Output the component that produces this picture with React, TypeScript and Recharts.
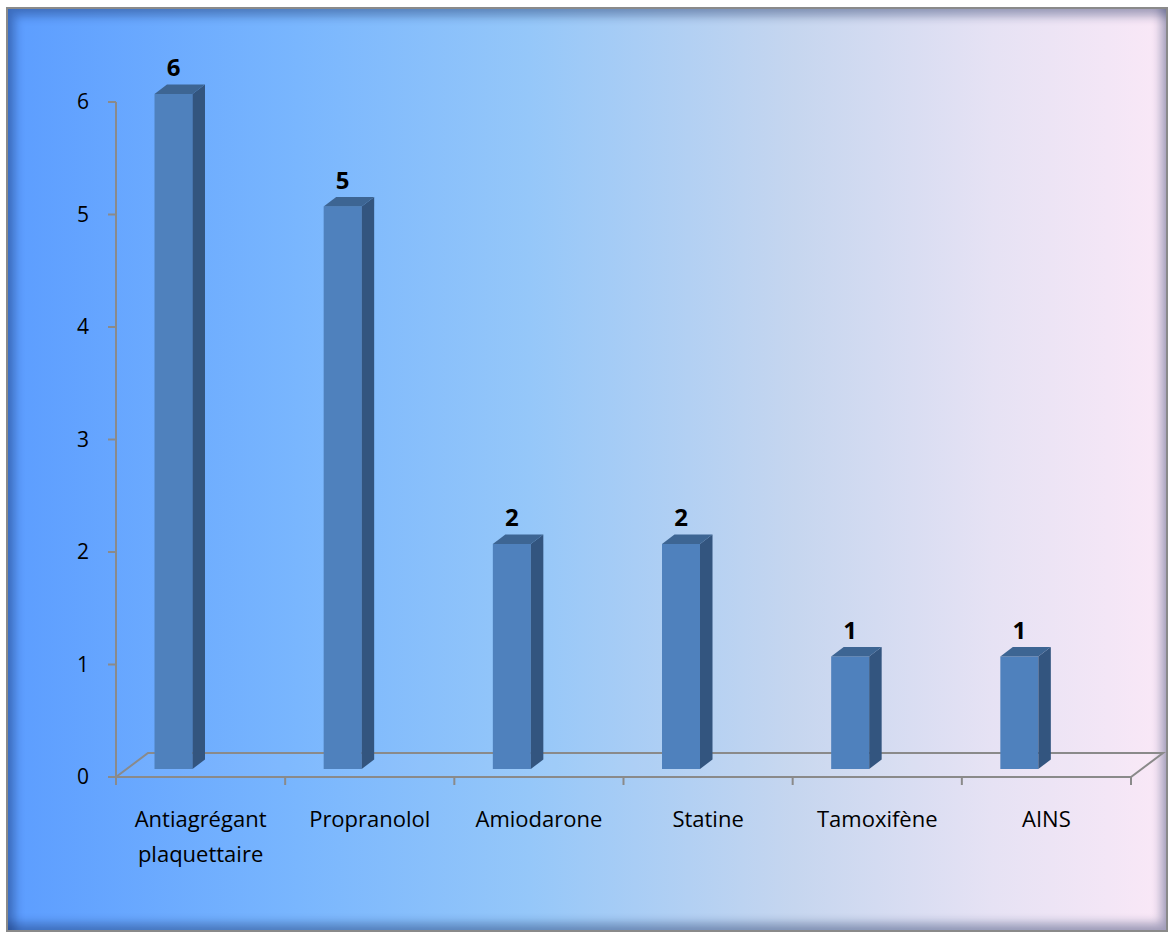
import React from 'react';
import { BarChart, Bar, XAxis, YAxis, ReferenceArea, LabelList } from 'recharts';

const categories = [
  'Antiagrégant plaquettaire',
  'Propranolol',
  'Amiodarone',
  'Statine',
  'Tamoxifène',
  'AINS',
];
const counts = [6, 5, 2, 2, 1, 1];
const yTicks = [0, 1, 2, 3, 4, 5, 6];

const FONT = '"Open Sans", "Liberation Sans", sans-serif';
const AXIS = '#8a8a8a';

// 3d look, in px
const SHIFT_X = -27.5;
const SHIFT_Y = -8;
const BAR_DX = 12.5;
const BAR_DY = 9.5;
const FLOOR_DX = 32;
const FLOOR_DY = 24;

const data = categories.map((name, i) => ({ name, value: counts[i] }));

function Bar3D(props: any) {
  const { x, y, width, height } = props;
  const fx = x + SHIFT_X;
  const top = y + SHIFT_Y;
  const bottom = y + height + SHIFT_Y;
  const r = fx + width;
  return (
    <g>
      <rect x={fx} y={top} width={width} height={bottom - top} fill="#4f81bd" />
      <path
        d={`M${r},${top} L${r + BAR_DX},${top - BAR_DY} L${r + BAR_DX},${bottom - BAR_DY} L${r},${bottom} Z`}
        fill="#33557f"
      />
      <path
        d={`M${fx},${top} L${fx + BAR_DX},${top - BAR_DY} L${r + BAR_DX},${top - BAR_DY} L${r},${top} Z`}
        fill="#3d6593"
      />
    </g>
  );
}

function Floor(props: any) {
  const { x, y, width, height } = props;
  const b = y + height;
  const n = categories.length;
  return (
    <g stroke={AXIS} strokeWidth={2} fill="none">
      <path
        d={`M${x},${b} L${x + FLOOR_DX},${b - FLOOR_DY} L${x + width + FLOOR_DX},${b - FLOOR_DY} L${x + width},${b} Z`}
        fill="rgba(255,255,255,0.06)"
      />
      {Array.from({ length: n + 1 }, (_, i) => (
        <line key={i} x1={x + (i * width) / n} y1={b} x2={x + (i * width) / n} y2={b + 8} />
      ))}
    </g>
  );
}

function ValueLabel(props: any) {
  const { x, y, width, value } = props;
  return (
    <text
      x={x + width / 2 + SHIFT_X}
      y={y + SHIFT_Y - 18}
      textAnchor="middle"
      fontFamily={FONT}
      fontWeight="bold"
      fontSize={24}
      fill="#000"
    >
      {value}
    </text>
  );
}

function CategoryTick(props: any) {
  const { x, y, payload } = props;
  const label: string = payload.value;
  const lines = label.length > 14 ? label.split(' ') : [label];
  return (
    <text x={x} y={y + 50} textAnchor="middle" fontFamily={FONT} fontSize={22} fill="#000">
      {lines.map((l, i) => (
        <tspan key={i} x={x} dy={i === 0 ? 0 : 35}>
          {l}
        </tspan>
      ))}
    </text>
  );
}

export default function App() {
  return (
    <div
      style={{
        position: 'absolute',
        left: 0,
        top: 0,
        width: 1168,
        height: 932,
        background: '#fff',
        overflow: 'hidden',
      }}
    >
      <div
        style={{
          position: 'absolute',
          left: 6,
          top: 7,
          width: 1162,
          height: 925,
          boxSizing: 'border-box',
          border: '2px solid #8a8a8a',
          background:
            'linear-gradient(to right, #5c9dff 0%, #79b6fe 25%, #95c7f9 45%, #c6d6ef 68%, #e6e2f4 85%, #fae8f7 100%)',
          boxShadow:
            'inset 7px 7px 10px rgba(10,30,80,0.35), inset -5px -7px 10px rgba(10,30,80,0.35)',
        }}
      />
      <div style={{ position: 'absolute', left: 0, top: 0 }}>
        <BarChart
          width={1168}
          height={932}
          data={data}
          margin={{ top: 102, right: 37, bottom: 95, left: 0 }}
        >
          <XAxis
            dataKey="name"
            height={60}
            axisLine={false}
            tickLine={false}
            tickSize={0}
            tickMargin={0}
            interval={0}
            tick={<CategoryTick />}
          />
          <YAxis
            width={116}
            domain={[0, 6]}
            ticks={yTicks}
            interval={0}
            axisLine={{ stroke: AXIS, strokeWidth: 2 }}
            tickLine={{ stroke: AXIS, strokeWidth: 2 }}
            tickSize={8}
            tickMargin={19}
            tick={{ fill: '#000', fontSize: 21, fontFamily: FONT }}
          />
          <ReferenceArea y1={0} y2={6} shape={<Floor />} />
          <Bar
            dataKey="value"
            barSize={38}
            shape={<Bar3D />}
            isAnimationActive={false}
          >
            <LabelList dataKey="value" content={<ValueLabel />} />
          </Bar>
        </BarChart>
      </div>
    </div>
  );
}
